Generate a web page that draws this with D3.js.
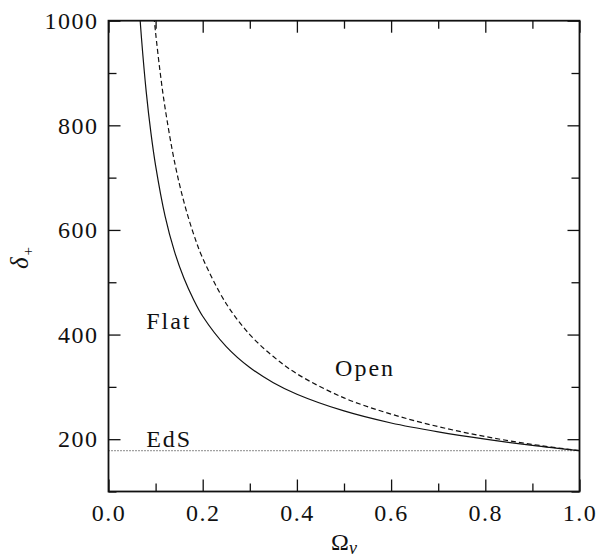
<!DOCTYPE html>
<html>
<head>
<meta charset="utf-8">
<script src="https://cdn.jsdelivr.net/npm/d3@7"></script>
<style>
  html, body { margin: 0; padding: 0; background: #fff; }
  svg { display: block; }
</style>
</head>
<body>
<svg id="chart" width="600" height="559"></svg>
<script>
// Virial overdensity versus matter density parameter
const omegaFlat = [0.065, 0.07, 0.08, 0.09, 0.10, 0.12, 0.14, 0.16, 0.18, 0.20, 0.25, 0.30, 0.35, 0.40, 0.50, 0.60, 0.70, 0.80, 0.90, 1.00];
const deltaFlat = [1029, 967, 865, 786, 723, 627, 559, 508, 468, 435, 377, 337, 308, 286, 254, 231, 214, 200, 188, 178];

const omegaOpen = [0.095, 0.10, 0.11, 0.12, 0.14, 0.16, 0.18, 0.20, 0.25, 0.30, 0.35, 0.40, 0.50, 0.60, 0.70, 0.80, 0.90, 1.00];
const deltaOpen = [1022, 977, 899, 834, 731, 654, 594, 546, 459, 400, 358, 325, 279, 248, 224, 205, 190, 178];

const deltaEdS = 178;

const xMajorTicks = [0, 0.2, 0.4, 0.6, 0.8, 1.0];
const xMinorTicks = [0.1, 0.3, 0.5, 0.7, 0.9];
const yMajorTicks = [200, 400, 600, 800, 1000];
const yMinorTicks = [100, 300, 500, 700, 900];

const curveLabels = [
  { text: "Flat", x: 0.08, y: 410 },
  { text: "Open", x: 0.481, y: 320 },
  { text: "EdS", x: 0.08, y: 185 }
];

const plotLeft = 108.5, plotRight = 579.5, plotTop = 20.7, plotBottom = 491.5;
const serif = "'Liberation Serif'";
const ink = "#111";

const svg = d3.select("#chart");
const x = d3.scaleLinear().domain([0, 1]).range([plotLeft, plotRight]);
const y = d3.scaleLinear().domain([100, 1000]).range([plotBottom, plotTop]);

svg.append("defs").append("clipPath").attr("id", "plot-clip")
  .append("rect").attr("x", plotLeft).attr("y", plotTop)
  .attr("width", plotRight - plotLeft).attr("height", plotBottom - plotTop);

const plot = svg.append("g").attr("clip-path", "url(#plot-clip)");

// EdS reference level
plot.append("line")
  .attr("x1", x(0)).attr("x2", x(1))
  .attr("y1", y(deltaEdS)).attr("y2", y(deltaEdS))
  .attr("stroke", "#444").attr("stroke-width", 1.2)
  .attr("stroke-dasharray", "1,2");

const line = d3.line()
  .x(d => x(d[0])).y(d => y(d[1]))
  .curve(d3.curveCatmullRom.alpha(0.5));

plot.append("path")
  .datum(d3.zip(omegaFlat, deltaFlat))
  .attr("d", line)
  .attr("fill", "none").attr("stroke", ink).attr("stroke-width", 1.2);

plot.append("path")
  .datum(d3.zip(omegaOpen, deltaOpen))
  .attr("d", line)
  .attr("fill", "none").attr("stroke", ink).attr("stroke-width", 1.2)
  .attr("stroke-dasharray", "5,3");

// Axes: ticks point inward on all four sides
function styleAxis(g) {
  g.select(".domain").remove();
  g.selectAll(".tick line").attr("stroke", ink).attr("stroke-width", 1.3);
  g.selectAll(".tick text")
    .attr("fill", ink)
    .style("font-family", serif)
    .style("font-size", "24px")
    .style("letter-spacing", "1.5px");
}

svg.append("g").attr("transform", `translate(0,${plotBottom})`)
  .call(d3.axisBottom(x).tickValues(xMajorTicks).tickSize(-12).tickPadding(12.5).tickFormat(d3.format(".1f")))
  .call(styleAxis);
svg.append("g").attr("transform", `translate(0,${plotBottom})`)
  .call(d3.axisBottom(x).tickValues(xMinorTicks).tickSize(-8).tickFormat(""))
  .call(styleAxis);
svg.append("g").attr("transform", `translate(0,${plotTop})`)
  .call(d3.axisTop(x).tickValues(xMajorTicks).tickSize(-12).tickFormat(""))
  .call(styleAxis);
svg.append("g").attr("transform", `translate(0,${plotTop})`)
  .call(d3.axisTop(x).tickValues(xMinorTicks).tickSize(-8).tickFormat(""))
  .call(styleAxis);

svg.append("g").attr("transform", `translate(${plotLeft},0)`)
  .call(d3.axisLeft(y).tickValues(yMajorTicks).tickSize(-12).tickPadding(10).tickFormat(d3.format("d")))
  .call(styleAxis);
svg.append("g").attr("transform", `translate(${plotLeft},0)`)
  .call(d3.axisLeft(y).tickValues(yMinorTicks).tickSize(-8).tickFormat(""))
  .call(styleAxis);
svg.append("g").attr("transform", `translate(${plotRight},0)`)
  .call(d3.axisRight(y).tickValues(yMajorTicks).tickSize(-12).tickFormat(""))
  .call(styleAxis);
svg.append("g").attr("transform", `translate(${plotRight},0)`)
  .call(d3.axisRight(y).tickValues(yMinorTicks).tickSize(-8).tickFormat(""))
  .call(styleAxis);

// Frame
svg.append("rect")
  .attr("x", plotLeft).attr("y", plotTop)
  .attr("width", plotRight - plotLeft).attr("height", plotBottom - plotTop)
  .attr("fill", "none").attr("stroke", ink).attr("stroke-width", 1.8);

// Curve labels
svg.selectAll("text.curve-label")
  .data(curveLabels)
  .join("text")
  .attr("class", "curve-label")
  .attr("x", d => x(d.x)).attr("y", d => y(d.y))
  .attr("fill", ink)
  .style("font-family", serif)
  .style("font-size", "24px").style("letter-spacing", "2px")
  .text(d => d.text);

// Axis titles
const xTitle = svg.append("text")
  .attr("x", (plotLeft + plotRight) / 2).attr("y", 550)
  .attr("text-anchor", "middle")
  .attr("fill", ink)
  .style("font-family", serif)
  .style("font-size", "24px");
xTitle.append("tspan").text("Ω");
xTitle.append("tspan").attr("dy", 4).style("font-size", "18px").style("font-style", "italic").text("v");

const yTitle = svg.append("text")
  .attr("transform", "translate(28,258) rotate(-90)")
  .attr("text-anchor", "middle")
  .attr("fill", ink)
  .style("font-family", serif)
  .style("font-size", "25px");
yTitle.append("tspan").style("font-style", "italic").text("δ");
yTitle.append("tspan").attr("dy", 5).attr("dx", 2).style("font-size", "15px").text("+");
</script>
</body>
</html>
